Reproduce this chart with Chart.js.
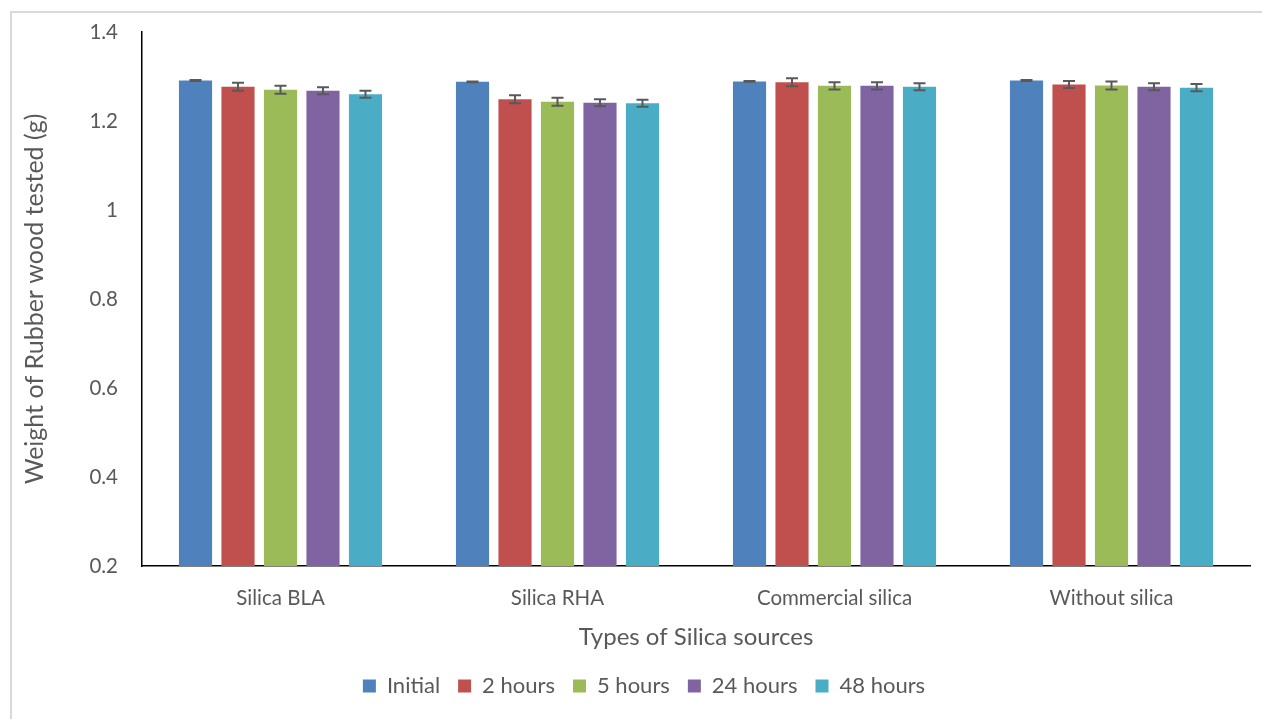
<!DOCTYPE html>
<html lang="en">
<head>
  <meta charset="UTF-8">
  <title>Weight of Rubber wood tested</title>
  <script src="https://cdn.jsdelivr.net/npm/chart.js"></script>
  <style>
    html, body {
      margin: 0;
      padding: 0;
      background: #ffffff;
      overflow: hidden;
    }
    .frame {
      position: absolute;
      left: 10px;
      top: 11px;
      width: 1400px;
      height: 900px;
      border: 2px solid #d9d9d9;
      box-sizing: border-box;
    }
    .chart-box {
      position: absolute;
      left: 0;
      top: 0;
      width: 1262px;
      height: 719px;
    }
  </style>
</head>
<body>
  <div class="frame"></div>
  <div class="chart-box">
    <canvas id="silicaChart"></canvas>
  </div>

  <script>
    const categories = ['Silica BLA', 'Silica RHA', 'Commercial silica', 'Without silica'];
    const seriesNames = ['Initial', '2 hours', '5 hours', '24 hours', '48 hours'];
    const seriesColors = ['#4f81bd', '#c0504d', '#9bbb59', '#8064a2', '#4bacc6'];

    // mean weight (g), one array per time point
    const initial = [1.291, 1.288, 1.289, 1.291];
    const hours2 = [1.277, 1.249, 1.287, 1.282];
    const hours5 = [1.270, 1.243, 1.279, 1.280];
    const hours24 = [1.268, 1.241, 1.279, 1.277];
    const hours48 = [1.260, 1.240, 1.277, 1.275];

    // error bar half-heights
    const errInitial = [0.001, 0.001, 0.001, 0.001];
    const errHours2 = [0.009, 0.009, 0.009, 0.008];
    const errHours5 = [0.009, 0.009, 0.008, 0.009];
    const errHours24 = [0.008, 0.008, 0.008, 0.008];
    const errHours48 = [0.008, 0.008, 0.008, 0.008];

    const yTickLabels = ['0.2', '0.4', '0.6', '0.8', '1', '1.2', '1.4'];

    const values = [initial, hours2, hours5, hours24, hours48];
    const errors = [errInitial, errHours2, errHours5, errHours24, errHours48];

    const textColor = '#595959';
    const fontFamily = 'Lato, "Noto Sans", sans-serif';

    // draws the +/- error bars on top of each bar
    const errorBars = {
      id: 'errorBars',
      afterDatasetsDraw(chart) {
        const ctx = chart.ctx;
        const yScale = chart.scales.y;
        ctx.save();
        ctx.strokeStyle = '#595959';
        ctx.lineWidth = 2;
        chart.data.datasets.forEach((ds, i) => {
          const meta = chart.getDatasetMeta(i);
          meta.data.forEach((bar, j) => {
            const v = ds.data[j];
            const e = ds.errors[j];
            const yTop = yScale.getPixelForValue(v + e);
            const yBot = yScale.getPixelForValue(v - e);
            const cap = 6;
            ctx.beginPath();
            ctx.moveTo(bar.x, yTop);
            ctx.lineTo(bar.x, yBot);
            ctx.moveTo(bar.x - cap, yTop);
            ctx.lineTo(bar.x + cap, yTop);
            ctx.moveTo(bar.x - cap, yBot);
            ctx.lineTo(bar.x + cap, yBot);
            ctx.stroke();
          });
        });
        ctx.restore();
      }
    };

    const ctx = document.getElementById('silicaChart').getContext('2d');
    const chart = new Chart(ctx, {
      type: 'bar',
      data: {
        labels: categories,
        datasets: seriesNames.map((name, i) => ({
          label: name,
          data: values[i],
          errors: errors[i],
          backgroundColor: seriesColors[i],
          borderWidth: 0,
          categoryPercentage: 0.767,
          barPercentage: 0.78
        }))
      },
      options: {
        responsive: true,
        maintainAspectRatio: false,
        animation: false,
        layout: {
          autoPadding: false,
          padding: { left: 38, top: 32, right: 12, bottom: 12 }
        },
        plugins: {
          legend: {
            position: 'bottom',
            labels: {
              color: textColor,
              font: { family: fontFamily, size: 22 },
              boxWidth: 13,
              boxHeight: 13,
              padding: 18
            }
          },
          tooltip: { enabled: false }
        },
        scales: {
          x: {
            grid: { display: false, drawTicks: false },
            border: { display: true, color: '#000000', width: 1.5 },
            ticks: {
              color: textColor,
              font: { family: fontFamily, size: 20.5 },
              padding: 20
            },
            title: {
              display: true,
              text: 'Types of Silica sources',
              color: textColor,
              font: { family: fontFamily, size: 24 },
              padding: { top: 0, bottom: 5 }
            },
            afterFit(scale) {
              scale.height = 91;
            }
          },
          y: {
            min: 0.2,
            max: 1.4,
            // tick marks are hidden with the grid; tickLength only spaces the labels
            grid: { display: false, drawTicks: true, tickLength: 24 },
            border: { display: true, color: '#000000', width: 1.5 },
            ticks: {
              stepSize: 0.2,
              color: textColor,
              font: { family: fontFamily, size: 20.5 },
              padding: 0,
              callback: (v, idx) => yTickLabels[idx]
            },
            title: {
              display: true,
              text: 'Weight of Rubber wood tested (g)',
              color: textColor,
              font: { family: fontFamily, size: 25 },
              padding: { top: -18, bottom: 0 }
            },
            afterFit(scale) {
              scale.width = 104;
            }
          }
        }
      },
      plugins: [errorBars]
    });
  </script>
</body>
</html>
